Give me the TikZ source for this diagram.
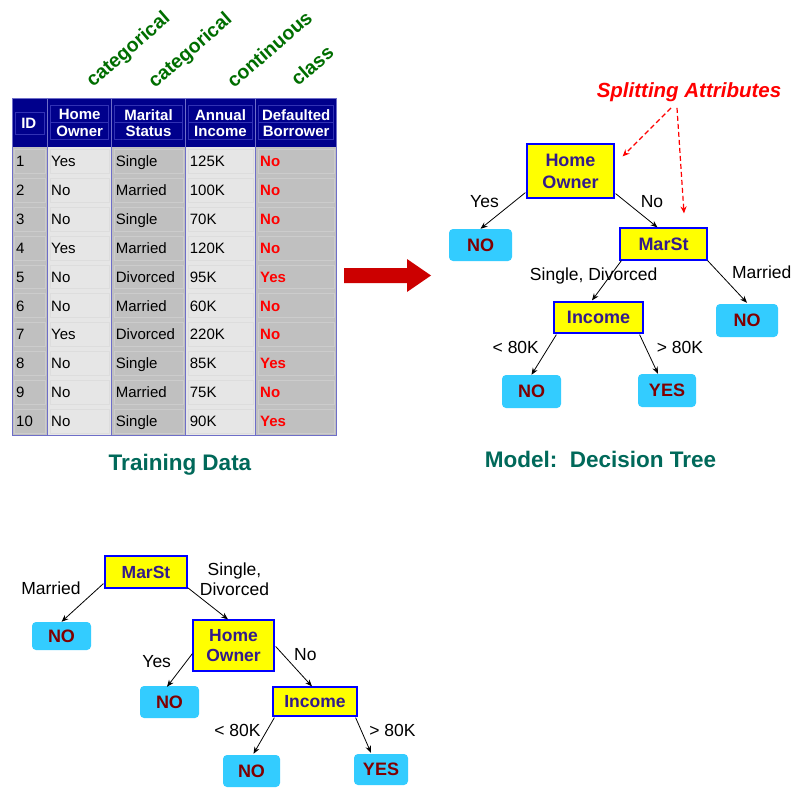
\documentclass[tikz,border=0pt]{standalone}
\usepackage{fontspec}
\setmainfont{Liberation Sans}
\usetikzlibrary{arrows.meta,calc}

\definecolor{hdrblue}{RGB}{0,0,140}
\definecolor{hdrline}{RGB}{50,50,180}
\definecolor{gridblue}{RGB}{110,110,200}
\definecolor{cellgray}{RGB}{192,192,192}
\definecolor{celllight}{RGB}{230,230,230}
\definecolor{bevelgray}{RGB}{204,204,204}
\definecolor{bevellight}{RGB}{221,221,221}
\definecolor{classred}{RGB}{255,0,0}
\definecolor{typegreen}{RGB}{0,110,0}
\definecolor{captionteal}{RGB}{0,105,90}
\definecolor{arrowred}{RGB}{204,0,0}
\definecolor{attryellow}{RGB}{255,255,0}
\definecolor{attrborder}{RGB}{0,0,255}
\definecolor{attrtext}{RGB}{51,26,140}
\definecolor{leafblue}{RGB}{51,204,255}
\definecolor{leaftext}{RGB}{128,0,0}

\tikzset{
  hdrtext/.style={text=white, font=\fontsize{15}{16.7}\selectfont\bfseries, align=center, inner sep=0pt},
  celltext/.style={font=\fontsize{15}{17}\selectfont, inner sep=0pt, anchor=base west},
  classtext/.style={celltext, text=classred, font=\fontsize{15}{17}\selectfont\bfseries},
  typetext/.style={text=typegreen, font=\fontsize{19.5}{21}\selectfont\bfseries, rotate=41, anchor=base west, inner sep=0pt},
  caption/.style={text=captionteal, font=\fontsize{22.5}{25}\selectfont\bfseries, anchor=base, inner sep=0pt},
  attrbox/.style={draw=attrborder, fill=attryellow, line width=1.2pt, text=attrtext,
    font=\fontsize{18}{22}\selectfont\bfseries, align=center, inner sep=0pt},
  leafbox/.style={fill=leafblue, rounded corners=4pt, text=leaftext,
    font=\fontsize{18}{20}\selectfont\bfseries, inner sep=0pt},
  branch/.style={-{Stealth[length=7pt,width=5.5pt]}, line width=0.8pt},
  branchlabel/.style={font=\fontsize{17.5}{20}\selectfont, inner sep=0pt, anchor=base},
  splitarrow/.style={-{Stealth[length=7pt,width=6pt]}, draw=classred, line width=1.2pt, dash pattern=on 5pt off 3pt}
}

\begin{document}
\begin{tikzpicture}[x=1pt,y=-1pt]
\useasboundingbox[fill=white] (0,0) rectangle (806,792);

% ---------- attribute types ----------
\node[typetext] (type1) at (93,88) {categorical};
\node[typetext] (type2) at (155,89) {categorical};
\node[typetext] (type3) at (234,89) {continuous};
\node[typetext] (type4) at (298,87) {class};

% ---------- training table ----------
\fill[hdrblue] (12,98) rectangle (336.7,146.7);
\fill[cellgray]  (12,146.7)    rectangle (47.7,435.7);
\fill[celllight] (47.7,146.7)  rectangle (111.7,435.7);
\fill[cellgray]  (111.7,146.7) rectangle (185.3,435.7);
\fill[celllight] (185.3,146.7) rectangle (255.7,435.7);
\fill[cellgray]  (255.7,146.7) rectangle (336.7,435.7);

% inset cell edges
\foreach \xa/\xb/\c in {12/47.7/bevelgray, 47.7/111.7/bevellight, 111.7/185.3/bevelgray,
                        185.3/255.7/bevellight, 255.7/336.7/bevelgray}
  \foreach \r in {0,...,9}
    \draw[\c, line width=0.6pt] ({\xa+2.5},{146.7+28.9*\r+2.5}) rectangle ({\xb-2.5},{146.7+28.9*\r+26.4});

% header inner frames
\draw[hdrline, line width=0.6pt] (15,112) rectangle (44.7,134);
\foreach \xa/\xb in {47.7/111.7, 111.7/185.3, 185.3/255.7, 255.7/336.7} {
  \draw[hdrline, line width=0.6pt] ({\xa+3},105) rectangle ({\xb-3},122.3);
  \draw[hdrline, line width=0.6pt] ({\xa+3},122.3) rectangle ({\xb-3},139.3);
}

% column rules and frame
\foreach \x in {47.7,111.7,185.3,255.7}
  \draw[gridblue, line width=1pt] (\x,98) -- (\x,435.7);
\draw[gridblue, line width=1pt] (12,98) rectangle (336.7,435.7);

% header texts
\node[hdrtext] (hid) at (28.8,123.3) {ID};
\node[hdrtext] (hho) at (79.7,123) {Home\\Owner};
\node[hdrtext] (hms) at (148.5,123) {Marital\\Status};
\node[hdrtext] (hai) at (220.5,123) {Annual\\Income};
\node[hdrtext] (hdb) at (296.2,123) {Defaulted\\Borrower};

% records
\foreach \id/\ho/\ms/\ai/\db [count=\r] in {
  1/Yes/Single/125K/No, 2/No/Married/100K/No, 3/No/Single/70K/No,
  4/Yes/Married/120K/No, 5/No/Divorced/95K/Yes, 6/No/Married/60K/No,
  7/Yes/Divorced/220K/No, 8/No/Single/85K/Yes, 9/No/Married/75K/No,
  10/No/Single/90K/Yes} {
  \pgfmathsetmacro\yb{146.7+28.9*(\r-0.5)+5.4}
  \node[celltext]  (r\r-id) at (16,\yb)    {\id};
  \node[celltext]  (r\r-ho) at (51,\yb)    {\ho};
  \node[celltext]  (r\r-ms) at (115.7,\yb) {\ms};
  \node[celltext]  (r\r-ai) at (189.7,\yb) {\ai};
  \node[classtext] (r\r-db) at (260,\yb)   {\db};
}

\node[caption] (traincap) at (180,470) {Training Data};

% ---------- induction arrow ----------
\fill[arrowred] (344,268) -- (407,268) -- (407,259) -- (431,275.5) -- (407,292)
  -- (407,283) -- (344,283) -- cycle;

% ---------- decision tree: Home Owner at the root ----------
\node[attrbox, minimum width=87pt, minimum height=54pt] (ho1) at (570.5,171) {Home\\Owner};
\node[leafbox, minimum width=63pt, minimum height=32pt] (no1a) at (480.5,245) {NO};
\node[attrbox, minimum width=87pt, minimum height=32pt] (ms1) at (663.5,244) {MarSt};
\node[attrbox, minimum width=89pt, minimum height=31pt] (inc1) at (598.5,317.5) {Income};
\node[leafbox, minimum width=62pt, minimum height=33pt] (no1b) at (747,320.5) {NO};
\node[leafbox, minimum width=59pt, minimum height=33pt] (no1c) at (531.5,391.5) {NO};
\node[leafbox, minimum width=58pt, minimum height=33pt] (yes1) at (667,390.5) {YES};

\draw[branch] ($(ho1.south west)+(-1,-6)$) -- (no1a.north);
\draw[branch] ($(ho1.south east)+(1,-5)$) -- ($(ms1.north)+(-6,0)$);
\draw[branch] ($(ms1.south west)+(2,0)$) -- ($(inc1.north)+(-6.5,-1)$);
\draw[branch] (ms1.south east) -- ($(no1b.north)+(0,-1)$);
\draw[branch] ($(inc1.south west)+(3,1)$) -- ($(no1c.north)+(0,0)$);
\draw[branch] ($(inc1.south east)+(-4,1)$) -- ($(yes1.north)+(-9,0)$);

\node[branchlabel] (l1yes) at (484.5,207) {Yes};
\node[branchlabel] (l1no) at (652,207) {No};
\node[branchlabel] (l1sd) at (593.7,280.7) {Single, Divorced};
\node[branchlabel] (l1mar) at (761.7,278.3) {Married};
\node[branchlabel] (l1lt) at (515.8,353.3) {< 80K};
\node[branchlabel] (l1gt) at (680,353.3) {> 80K};

\node[text=classred, font=\fontsize{20.5}{23}\selectfont\bfseries\itshape, anchor=base, inner sep=0pt]
  (split) at (689,98) {Splitting Attributes};
\draw[splitarrow] ($(split.south)+(-18,5.5)$) -- ($(ho1.north east)+(8,13)$);
\draw[splitarrow] ($(split.south)+(-12,5.5)$) -- ($(ms1.north)+(20.5,-14)$);

\node[caption] (modelcap) at (600.5,467.3) {Model:\ \ Decision Tree};

% ---------- decision tree: MarSt at the root ----------
\node[attrbox, font=\fontsize{17.5}{20.7}\selectfont\bfseries, minimum width=82pt, minimum height=32pt] (ms2) at (146,572) {MarSt};
\node[leafbox, minimum width=59pt, minimum height=28pt] (no2a) at (61.5,636) {NO};
\node[attrbox, font=\fontsize{17.5}{20.7}\selectfont\bfseries, minimum width=81pt, minimum height=51pt] (ho2) at (233.5,645.5) {Home\\Owner};
\node[leafbox, minimum width=59pt, minimum height=32pt] (no2b) at (169.5,702) {NO};
\node[attrbox, font=\fontsize{17.5}{20.7}\selectfont\bfseries, minimum width=84pt, minimum height=29pt] (inc2) at (315,701.5) {Income};
\node[leafbox, minimum width=57pt, minimum height=32pt] (no2c) at (251.5,771) {NO};
\node[leafbox, minimum width=54pt, minimum height=31pt] (yes2) at (381,769.5) {YES};

\draw[branch] ($(ms2.south west)+(-1,-5)$) -- (no2a.north);
\draw[branch] ($(ms2.south east)+(0,-1)$) -- ($(ho2.north)+(-5.5,0)$);
\draw[branch] ($(ho2.south west)+(0,-18)$) -- ($(no2b.north)+(-2.5,1)$);
\draw[branch] ($(ho2.north east)+(1,27)$) -- ($(inc2.north)+(-3,0)$);
\draw[branch] ($(inc2.south west)+(2,1)$) -- ($(no2c.north)+(2,-1)$);
\draw[branch] ($(inc2.south east)+(-2,1)$) -- ($(yes2.north)+(-10,-1)$);

\node[branchlabel] (l2mar) at (51,594.3) {Married};
\node[font=\fontsize{17.5}{20}\selectfont, align=center, inner sep=0pt] (l2sd) at (234.5,579) {Single,\\Divorced};
\node[branchlabel] (l2yes) at (156.7,667.7) {Yes};
\node[branchlabel] (l2no) at (305.3,660.7) {No};
\node[branchlabel] (l2lt) at (237.5,736.7) {< 80K};
\node[branchlabel] (l2gt) at (392.5,736.7) {> 80K};
\end{tikzpicture}
\end{document}
